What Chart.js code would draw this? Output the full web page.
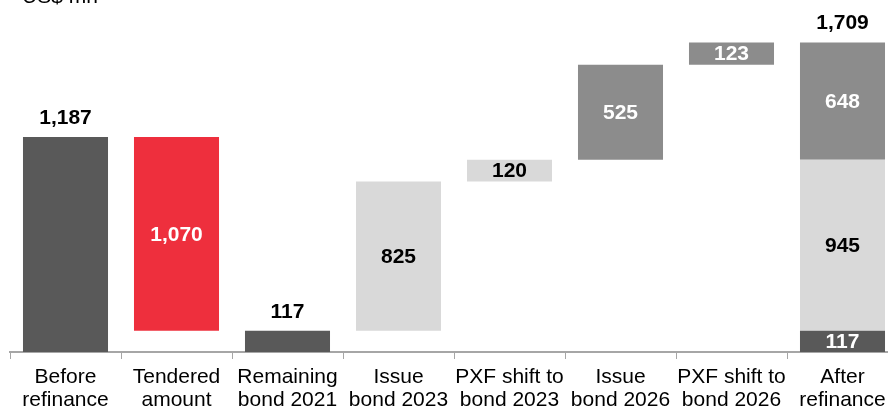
<!DOCTYPE html>
<html>
<head>
<meta charset="utf-8">
<script src="https://cdn.jsdelivr.net/npm/chart.js@4/dist/chart.umd.min.js"></script>
<style>
  html, body { margin: 0; padding: 0; background: #fff; overflow: hidden; }
  #wrap { position: relative; width: 900px; height: 411px; }
</style>
</head>
<body>
<div id="wrap"><canvas id="chart"></canvas></div>
<script>
// data (US$ mn)
const categories = [
  ['Before', 'refinance'],
  ['Tendered', 'amount'],
  ['Remaining', 'bond 2021'],
  ['Issue', 'bond 2023'],
  ['PXF shift to', 'bond 2023'],
  ['Issue', 'bond 2026'],
  ['PXF shift to', 'bond 2026'],
  ['After', 'refinance']
];
const stepStart = [0, 117, 0, 117, 942, 1062, 1587, null];
const stepEnd = [1187, 1187, 117, 942, 1062, 1587, 1710, null];
const stepLabels = ['1,187', '1,070', '117', '825', '120', '525', '123', null];
const afterParts = [117, 945, 648];
const afterLabels = ['117', '945', '648'];
const afterTotalLabel = '1,709';

// colours
const DARK = '#595959', RED = '#EE2F3D', LIGHT = '#D9D9D9', MID = '#8C8C8C';
const stepColors = [DARK, RED, DARK, LIGHT, LIGHT, MID, MID, DARK];
const partColors = [DARK, LIGHT, MID];
const stepLabelAbove = [true, false, true, false, false, false, false, false];

const last = categories.length - 1;
const datasets = [{
  data: categories.map((c, i) => stepStart[i] == null ? null : [stepStart[i], stepEnd[i]]),
  backgroundColor: stepColors,
  grouped: false
}];
let acc = 0;
afterParts.forEach((v, k) => {
  const from = acc;
  acc += v;
  datasets.push({
    data: categories.map((c, i) => i === last ? [from, acc] : null),
    backgroundColor: partColors[k],
    grouped: false
  });
});

const labelFont = 'bold 21px "Liberation Sans", Arial, sans-serif';

const barLabels = {
  id: 'barLabels',
  afterDatasetsDraw(chart) {
    const ctx = chart.ctx;
    ctx.save();
    ctx.font = labelFont;
    ctx.textAlign = 'center';
    ctx.textBaseline = 'middle';
    const meta0 = chart.getDatasetMeta(0);
    stepLabels.forEach((t, i) => {
      if (t == null) return;
      const bar = meta0.data[i];
      const top = Math.min(bar.y, bar.base), bot = Math.max(bar.y, bar.base);
      if (stepLabelAbove[i]) {
        ctx.fillStyle = '#000';
        ctx.fillText(t, bar.x, top - 19);
      } else {
        ctx.fillStyle = stepColors[i] === LIGHT ? '#000' : '#fff';
        ctx.fillText(t, bar.x, (top + bot) / 2 + 1);
      }
    });
    let topY = Infinity, x = 0;
    afterLabels.forEach((t, k) => {
      const bar = chart.getDatasetMeta(k + 1).data[last];
      const top = Math.min(bar.y, bar.base), bot = Math.max(bar.y, bar.base);
      topY = Math.min(topY, top);
      x = bar.x;
      ctx.fillStyle = partColors[k] === LIGHT ? '#000' : '#fff';
      ctx.fillText(t, bar.x, (top + bot) / 2 + 1);
    });
    ctx.fillStyle = '#000';
    ctx.fillText(afterTotalLabel, x, topY - 19);
    // unit caption (cut by the top edge as in the source)
    ctx.font = '21px "Liberation Sans", Arial, sans-serif';
    ctx.textAlign = 'left';
    ctx.textBaseline = 'alphabetic';
    ctx.fillText('US$ mn', 22, 2.5);
    ctx.restore();
  }
};

new Chart(document.getElementById('chart'), {
  type: 'bar',
  data: { labels: categories, datasets },
  options: {
    responsive: true,
    maintainAspectRatio: false,
    animation: false,
    layout: { padding: { left: 10, right: 2, top: 8, bottom: 0 } },
    datasets: {
      bar: { categoryPercentage: 1, barPercentage: 0.766 }
    },
    plugins: {
      legend: { display: false },
      tooltip: { enabled: false }
    },
    scales: {
      x: {
        afterFit(scale) { scale.height = 59; },
        grid: {
          display: true,
          drawOnChartArea: false,
          drawTicks: true,
          tickLength: 7,
          color: '#A6A6A6',
          offset: true
        },
        border: { display: true, color: '#A6A6A6', width: 2 },
        ticks: {
          color: '#000',
          maxRotation: 0,
          autoSkip: false,
          padding: 7,
          font: { family: '"Liberation Sans", Arial, sans-serif', size: 21, lineHeight: 1.1 }
        }
      },
      y: {
        display: false,
        min: 0,
        max: 1900
      }
    }
  },
  plugins: [barLabels]
});
</script>
</body>
</html>
